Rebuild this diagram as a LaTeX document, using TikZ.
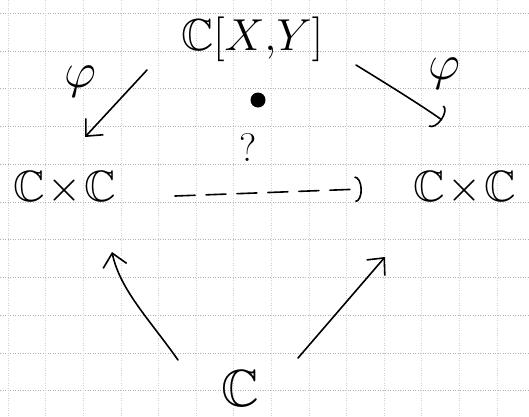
\documentclass[tikz,border=0pt]{standalone}
\usepackage{amssymb}
\usetikzlibrary{arrows.meta}
\begin{document}
\begin{tikzpicture}[x=1pt,y=-1pt,
  lab/.style={inner sep=0pt, scale=2.0, transform shape, font=\Huge},
  arr/.style={line width=1.6pt, line cap=round, -{Straight Barb[length=13pt,width=24pt,line width=1.6pt]}},
  arcarr/.style={line width=1.6pt, line cap=round, -{Arc Barb[length=7pt,width=26pt,line width=1.6pt]}},
  gridline/.style={black!30, line width=0.5pt, dotted}]
\useasboundingbox (0,0) rectangle (529,416);
\fill[white] (0,0) rectangle (529,416);
\foreach \i in {0,...,10} \draw[gridline] (0,{13+37.75*\i}) -- (529,{13+37.75*\i});
\foreach \i in {0,...,13} \draw[gridline, black!18] ({8+37.6*\i},0) -- ({8+37.6*\i},416);
\node[lab, scale=0.9] (top) at (252,39) {$\mathbb{C}[X{,}Y]$};
\node[lab, scale=0.88] (L) at (65,188) {$\mathbb{C}\!\times\!\mathbb{C}$};
\node[lab, scale=0.88] (R) at (465,188) {$\mathbb{C}\!\times\!\mathbb{C}$};
\node[lab, scale=1.05] (B) at (240,388) {$\mathbb{C}$};
\node[lab] (phiL) at (80,82) {$\varphi$};
\node[lab] (phiR) at (444,74) {$\varphi$};
\node[lab, scale=0.8] (q) at (248,148) {?};
\fill (258,100) circle (7.5);
\coordinate (a1) at (147,70);
\coordinate (a2) at (85,137);
\draw[arr] (a1) -- (a2);
\coordinate (b1) at (356,65);
\coordinate (b2) at (442,120);
\draw[arcarr] (b1) .. controls (400,92) and (425,108) .. (b2);
\coordinate (c1) at (175,196);
\coordinate (c2) at (362,189);
\draw[arcarr, dash pattern=on 20pt off 11pt] (c1) -- (c2);
\coordinate (d1) at (178,360);
\coordinate (d2) at (112,252);
\draw[arr] (d1) .. controls (150,320) and (120,290) .. (d2);
\coordinate (e1) at (298,358);
\coordinate (e2) at (385,257);
\draw[arr] (e1) -- (e2);
\end{tikzpicture}
\end{document}
